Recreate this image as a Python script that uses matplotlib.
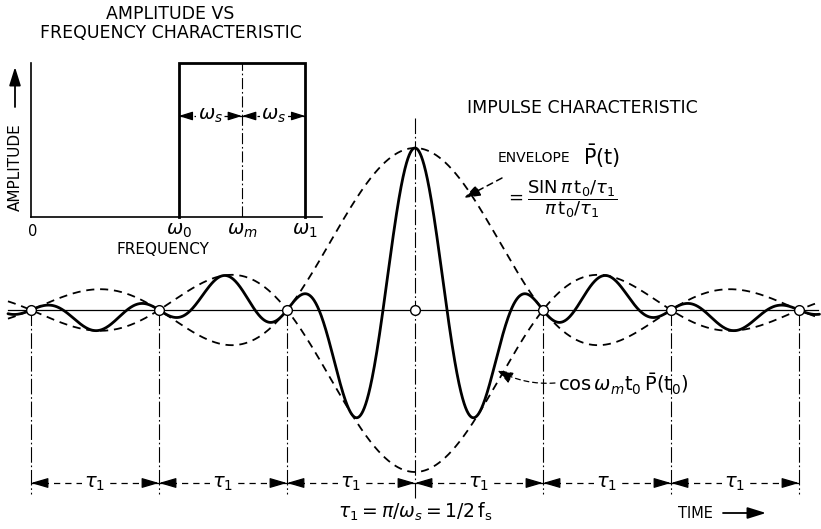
import numpy as np
import matplotlib
matplotlib.use("Agg")
import matplotlib.pyplot as plt

# ---------------- data ----------------
tau1 = 1.0                      # zero spacing of envelope (units of tau1)
zero_points = [-3, -2, -1, 1, 2, 3]   # envelope zeros (multiples of tau1)
center_point = [0]
cycles_per_tau = 1.0            # cos(omega_m t) completes one cycle per tau1
t_range = (-3.18, 3.16)

freq_labels = [r"$\omega_0$", r"$\omega_m$", r"$\omega_1$"]
freq_values = [0.70, 1.00, 1.30]   # omega_0, omega_m, omega_1 (relative)
band_amplitude = 1.0

# ---------------- figure ----------------
W, H = 821, 529
fig = plt.figure(figsize=(W / 100, H / 100), dpi=100)
fig.patch.set_facecolor("white")

X0, Y0, SX, SY = 415.0, 310.0, 128.0, 162.0
ax = fig.add_axes([0, 0, 1, 1])
ax.set_xlim(-X0 / SX, (W - X0) / SX)
ax.set_ylim(-(H - Y0) / SY, Y0 / SY)
ax.axis("off")


def px(x):
    return (x - X0) / SX


def py(y):
    return (Y0 - y) / SY


FONT = "DejaVu Sans"
plt.rcParams["font.family"] = [FONT]
plt.rcParams["mathtext.fontset"] = "dejavusans"

# curves
t = np.linspace(t_range[0], t_range[1], 3000)
env = np.sinc(t / tau1)
sig = np.cos(2 * np.pi * cycles_per_tau * t / tau1) * env

ax.plot([px(8), px(818)], [0, 0], color="black", lw=0.9, zorder=2)
ax.plot(t, env, color="black", lw=1.3, ls=(0, (4.5, 3.2)), zorder=3)
ax.plot(t, -env, color="black", lw=1.3, ls=(0, (4.5, 3.2)), zorder=3)
ax.plot(t, sig, color="black", lw=2.0, zorder=4, solid_capstyle="round")

# vertical dash-dot lines
vls = (0, (14, 2.5, 1.5, 2.5))
for z in zero_points:
    ax.plot([z * tau1, z * tau1], [0, py(494)], color="black", lw=0.8, ls=vls, zorder=1)
ax.plot([0, 0], [py(118), py(500)], color="black", lw=0.8, ls=vls, zorder=1)

# circles
pts = sorted(zero_points + center_point)
ax.plot([p * tau1 for p in pts], [0] * len(pts), "o", ms=7, mfc="white",
        mec="black", mew=1.0, zorder=6)

# dimension arrows
ydim = py(483)
for a, b in zip(pts[:-1], pts[1:]):
    ax.plot([a, b], [ydim, ydim], color="black", lw=0.9, ls=(0, (5, 4)), zorder=2)
    for s, e in ((a + 0.12, a), (b - 0.12, b)):
        ax.annotate("", xy=(e, ydim), xytext=(s, ydim),
                    arrowprops=dict(arrowstyle="-|>,head_length=0.75,head_width=0.22",
                                    color="black", lw=0.9, shrinkA=0, shrinkB=0,
                                    mutation_scale=14))
    ax.text((a + b) / 2, ydim - 0.005, r"$\tau_1$", ha="center", va="center",
            fontsize=14, bbox=dict(facecolor="white", edgecolor="none", pad=1.5),
            zorder=5)

ax.text(px(415), py(512), r"$\tau_1=\pi/\omega_s=1/2\,\mathrm{f_s}$",
        ha="center", va="center", fontsize=13.5)
ax.text(px(678), py(513), "TIME", ha="left", va="center", fontsize=10.5)
ax.annotate("", xy=(px(766), py(513)), xytext=(px(723), py(513)),
            arrowprops=dict(arrowstyle="-|>,head_length=0.8,head_width=0.25",
                            color="black", lw=1.3, shrinkA=0, shrinkB=0,
                            mutation_scale=14))

# titles / annotations for impulse characteristic
ax.text(px(582), py(108), "IMPULSE CHARACTERISTIC", ha="center", va="center",
        fontsize=12.5)
ax.text(px(498), py(158), "ENVELOPE", ha="left", va="center", fontsize=10)
ax.text(px(583), py(156), r"$\bar{\mathrm{P}}(\mathrm{t})$", ha="left",
        va="center", fontsize=15)
ax.text(px(505), py(199),
        r"$=\dfrac{\mathrm{SIN}\,\pi\,\mathrm{t_0}/\tau_1}{\pi\,\mathrm{t_0}/\tau_1}$",
        ha="left", va="center", fontsize=13)
ax.annotate("", xy=(px(464), py(198)), xytext=(px(502), py(178)),
            arrowprops=dict(arrowstyle="-|>,head_length=0.7,head_width=0.25",
                            color="black", lw=1.1, ls=(0, (4, 3)), shrinkA=0,
                            shrinkB=0, mutation_scale=14))
ax.text(px(558), py(384),
        r"$\mathrm{cos}\,\omega_m\mathrm{t_0}\,\bar{\mathrm{P}}(\mathrm{t_0})$",
        ha="left", va="center", fontsize=14)
ax.annotate("", xy=(px(497), py(370)), xytext=(px(555), py(383)),
            arrowprops=dict(arrowstyle="-|>,head_length=0.7,head_width=0.25",
                            color="black", lw=0.9, ls=(0, (4, 3)), shrinkA=0,
                            shrinkB=0, mutation_scale=14,
                            connectionstyle="arc3,rad=-0.15"))

# ---------------- inset: amplitude vs frequency ----------------
iL, iR, iT, iB = 31, 322, 63, 217
ax2 = fig.add_axes([iL / W, (H - iB) / H, (iR - iL) / W, (iB - iT) / H])
ax2.set_facecolor("none")
fx = 211.0  # pixels per unit frequency
ax2.set_xlim(0, (iR - iL) / fx)
ax2.set_ylim(0, 1)
for s in ("top", "right"):
    ax2.spines[s].set_visible(False)
for s in ("left", "bottom"):
    ax2.spines[s].set_linewidth(1.2)
ax2.set_xticks([])
ax2.set_yticks([])

w0, wm, w1 = freq_values
ax2.plot([w0, w0, w1, w1], [0, band_amplitude, band_amplitude, 0], color="black",
         lw=2.0, clip_on=False, solid_joinstyle="miter")
ax2.plot([wm, wm], [0, band_amplitude], color="black", lw=0.8,
         ls=(0, (10, 2.5, 1.5, 2.5)))

ya = (iB - 116) / (iB - iT)
for a, b in ((w0, wm), (wm, w1)):
    ax2.plot([a, b], [ya, ya], color="black", lw=0.9, ls=(0, (3, 3)))
    for s, e in ((a + 0.06, a), (b - 0.06, b)):
        ax2.annotate("", xy=(e, ya), xytext=(s, ya),
                     arrowprops=dict(arrowstyle="-|>,head_length=0.7,head_width=0.22",
                                     color="black", lw=0.9, shrinkA=0, shrinkB=0,
                                     mutation_scale=12))
    ax2.text((a + b) / 2, ya, r"$\omega_s$", ha="center", va="center",
             fontsize=14, bbox=dict(facecolor="white", edgecolor="none", pad=1))

ylab = (iB - 231) / (iB - iT)
ax2.text(2 / fx, ylab, "0", ha="center", va="center", fontsize=10.5)
for v, lab in zip(freq_values, freq_labels):
    ax2.text(v, ylab, lab, ha="center", va="center", fontsize=14)
ax2.text((163 - iL) / fx, (iB - 249) / (iB - iT), "FREQUENCY", ha="center",
         va="center", fontsize=11)

# y label and arrow
fig.text(15 / W, 1 - 167 / H, "AMPLITUDE", rotation=90, ha="center", va="center",
         fontsize=11)
ax.annotate("", xy=(px(15), py(67)), xytext=(px(15), py(107)),
            arrowprops=dict(arrowstyle="-|>,head_length=0.8,head_width=0.25",
                            color="black", lw=1.3, shrinkA=0, shrinkB=0,
                            mutation_scale=14))

fig.text(170 / W, 1 - 14 / H, "AMPLITUDE VS", ha="center", va="center", fontsize=12.5)
fig.text(171 / W, 1 - 33 / H, "FREQUENCY CHARACTERISTIC", ha="center", va="center",
         fontsize=12.5)

fig.savefig("out.png", dpi=100, facecolor="white")
